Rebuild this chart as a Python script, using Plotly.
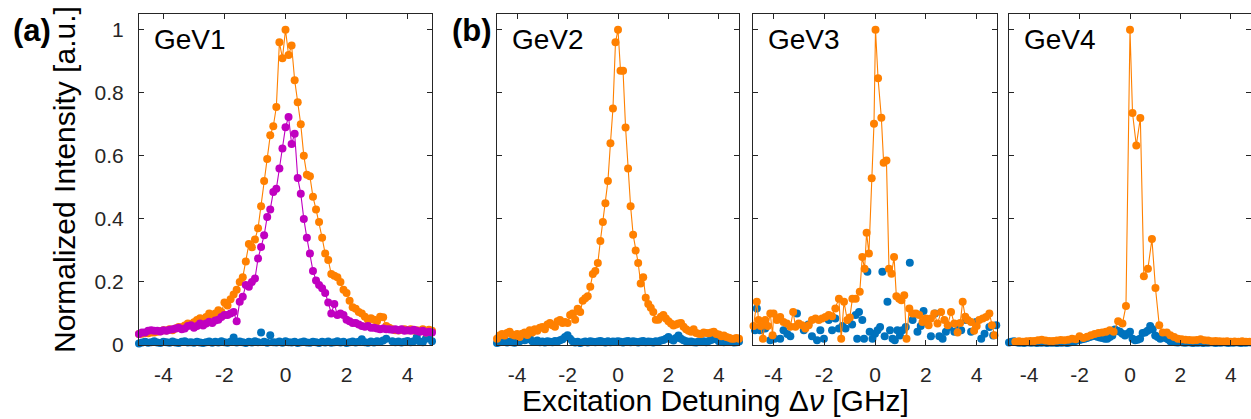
import plotly.graph_objects as go

# ---------------- data ----------------
x_grid = [-4.8, -4.7, -4.6, -4.5, -4.4, -4.3, -4.2, -4.1, -4.0,
          -3.9, -3.8, -3.7, -3.6, -3.5, -3.4, -3.3, -3.2, -3.1, -3.0,
          -2.9, -2.8, -2.7, -2.6, -2.5, -2.4, -2.3, -2.2, -2.1, -2.0,
          -1.9, -1.8, -1.7, -1.6, -1.5, -1.4, -1.3, -1.2, -1.1, -1.0,
          -0.9, -0.8, -0.7, -0.6, -0.5, -0.4, -0.3, -0.2, -0.1, 0.0,
          0.1, 0.2, 0.3, 0.4, 0.5, 0.6, 0.7, 0.8, 0.9, 1.0,
          1.1, 1.2, 1.3, 1.4, 1.5, 1.6, 1.7, 1.8, 1.9, 2.0,
          2.1, 2.2, 2.3, 2.4, 2.5, 2.6, 2.7, 2.8, 2.9, 3.0,
          3.1, 3.2, 3.3, 3.4, 3.5, 3.6, 3.7, 3.8, 3.9, 4.0,
          4.1, 4.2, 4.3, 4.4, 4.5, 4.6, 4.7, 4.8]

gev1_orange = [0.035, 0.036, 0.038, 0.037, 0.04, 0.04, 0.042, 0.044, 0.047,
               0.046, 0.05, 0.047, 0.052, 0.057, 0.056, 0.062, 0.068, 0.066, 0.072,
               0.079, 0.085, 0.082, 0.089, 0.1, 0.095, 0.1, 0.11, 0.105, 0.135,
               0.125, 0.145, 0.16, 0.175, 0.2, 0.215, 0.265, 0.32, 0.31, 0.335,
               0.37, 0.44, 0.52, 0.59, 0.665, 0.694, 0.755, 0.96, 0.91, 1.0,
               0.92, 0.95, 0.84, 0.77, 0.70, 0.6, 0.54, 0.535, 0.47, 0.43,
               0.39, 0.34, 0.29, 0.27, 0.225, 0.22, 0.215, 0.2, 0.175, 0.165,
               0.14, 0.12, 0.115, 0.105, 0.1, 0.09, 0.08, 0.085, 0.08, 0.075,
               0.09, 0.088, 0.06, 0.055, 0.05, 0.047, 0.046, 0.048, 0.05, 0.047,
               0.05, 0.046, 0.047, 0.045, 0.05, 0.04, 0.048, 0.045]

gev1_magenta = [0.035, 0.04, 0.04, 0.045, 0.047, 0.045, 0.045, 0.043, 0.047,
                0.045, 0.048, 0.05, 0.052, 0.055, 0.05, 0.052, 0.06, 0.063, 0.055,
                0.06, 0.068, 0.062, 0.068, 0.074, 0.07, 0.078, 0.08, 0.089, 0.095,
                0.095, 0.1, 0.105, 0.075, 0.137, 0.153, 0.19, 0.185, 0.2, 0.211,
                0.274, 0.311, 0.348, 0.406, 0.43, 0.485, 0.496, 0.56, 0.623, 0.691,
                0.723, 0.638, 0.67, 0.53, 0.48, 0.40, 0.34, 0.29, 0.235, 0.205,
                0.19, 0.18, 0.165, 0.135, 0.1, 0.13, 0.095, 0.1, 0.095, 0.08,
                0.075, 0.07, 0.07, 0.065, 0.06, 0.058, 0.06, 0.055, 0.055, 0.052,
                0.05, 0.052, 0.05, 0.05, 0.048, 0.05, 0.047, 0.05, 0.045, 0.047,
                0.045, 0.048, 0.045, 0.042, 0.045, 0.04, 0.042, 0.04]

gev1_blue = [0.005, 0.008, 0.01, 0.007, 0.009, 0.012, 0.008, 0.006, 0.01,
             0.009, 0.007, 0.011, 0.008, 0.006, 0.01, 0.012, 0.008, 0.009, 0.007,
             0.01, 0.008, 0.006, 0.009, 0.011, 0.007, 0.01, 0.008, 0.012, 0.009,
             0.007, 0.01, 0.024, 0.008, 0.011, 0.009, 0.006, 0.01, 0.008, 0.012,
             0.009, 0.04, 0.01, 0.007, 0.031, 0.009, 0.008, 0.011, 0.007, 0.012,
             0.009, 0.008, 0.01, 0.006, 0.009, 0.011, 0.008, 0.007, 0.01, 0.009,
             0.006, 0.01, 0.008, 0.011, 0.007, 0.009, 0.012, 0.008, 0.01, 0.006,
             0.009, 0.011, 0.008, 0.01, 0.018, 0.009, 0.007, 0.011, 0.008, 0.012,
             0.01, 0.014, 0.02, 0.05, 0.012, 0.009, 0.011, 0.008, 0.01, 0.013,
             0.009, 0.012, 0.025, 0.011, 0.009, 0.02, 0.03, 0.012]

gev2_orange = [0.02, 0.03, 0.035, 0.03, 0.038, 0.042, 0.033, 0.03, 0.035,
               0.025, 0.036, 0.04, 0.032, 0.047, 0.04, 0.05, 0.045, 0.055, 0.057,
               0.05, 0.065, 0.07, 0.063, 0.058, 0.075, 0.079, 0.07, 0.073, 0.07,
               0.095, 0.1, 0.08, 0.115, 0.105, 0.14, 0.148, 0.155, 0.185, 0.225,
               0.235, 0.26, 0.33, 0.39, 0.45, 0.52, 0.64, 0.75, 0.96, 1.0,
               0.87, 0.87, 0.69, 0.56, 0.44, 0.35, 0.3, 0.26, 0.195, 0.215,
               0.15, 0.13, 0.118, 0.105, 0.08, 0.08, 0.09, 0.095, 0.084, 0.075,
               0.068, 0.062, 0.065, 0.068, 0.07, 0.058, 0.05, 0.045, 0.042, 0.05,
               0.038, 0.036, 0.035, 0.04, 0.038, 0.037, 0.04, 0.042, 0.035, 0.033,
               0.028, 0.03, 0.025, 0.023, 0.02, 0.02, 0.022, 0.02]

gev2_blue = [0.006, 0.009, 0.012, 0.01, 0.008, 0.011, 0.009, 0.007, 0.01,
             0.012, 0.02, 0.015, 0.018, 0.022, 0.012, 0.01, 0.014, 0.009, 0.011,
             0.008, 0.012, 0.01, 0.009, 0.013, 0.011, 0.015, 0.018, 0.025, 0.031,
             0.02, 0.012, 0.008, 0.01, 0.006, 0.009, 0.011, 0.008, 0.012, 0.01,
             0.009, 0.011, 0.013, 0.01, 0.008, 0.012, 0.009, 0.011, 0.01, 0.012,
             0.01, 0.008, 0.011, 0.013, 0.009, 0.012, 0.01, 0.008, 0.011, 0.013,
             0.009, 0.011, 0.01, 0.008, 0.012, 0.01, 0.014, 0.016, 0.02, 0.025,
             0.018, 0.014, 0.022, 0.03, 0.02, 0.015, 0.012, 0.01, 0.011, 0.009,
             0.008, 0.011, 0.01, 0.012, 0.009, 0.013, 0.016, 0.02, 0.018, 0.012,
             0.01, 0.009, 0.011, 0.012, 0.01, 0.008, 0.009, 0.011]

gev3_orange_x = [-4.78, -4.65, -4.58, -4.5, -4.41, -4.32, -4.22, -4.12, -4.03, -3.99,
                 -3.86, -3.73, -3.6, -3.47, -3.33, -3.22, -3.13, -3.0, -2.87, -2.74,
                 -2.61, -2.48, -2.34, -2.21, -2.08, -1.95, -1.82, -1.69, -1.56, -1.42,
                 -1.33, -1.22, -1.09, -0.99, -0.89, -0.76, -0.6, -0.5, -0.41, -0.33,
                 -0.24, -0.13, -0.04, 0.02, 0.12, 0.25, 0.34, 0.45, 0.55, 0.65,
                 0.75, 0.84, 0.95, 1.04, 1.15, 1.24, 1.35, 1.48, 1.61, 1.74,
                 1.87, 2.0, 2.11, 2.2, 2.33, 2.46, 2.6, 2.73, 2.86, 2.99,
                 3.12, 3.25, 3.35, 3.45, 3.55, 3.65, 3.78, 3.9, 4.0, 4.1,
                 4.24, 4.37, 4.5, 4.6, 4.7]
gev3_orange = [0.06, 0.137, 0.079, 0.06, 0.02, 0.079, 0.06, 0.1, 0.031, 0.1,
               0.079, 0.089, 0.073, 0.068, 0.058, 0.105, 0.058, 0.068, 0.063, 0.052,
               0.063, 0.079, 0.084, 0.079, 0.084, 0.089, 0.095, 0.091, 0.116, 0.147,
               0.02, 0.137, 0.079, 0.087, 0.147, 0.147, 0.169, 0.279, 0.242, 0.356,
               0.29, 0.529, 0.702, 1.0, 0.846, 0.721, 0.578, 0.585, 0.242, 0.226,
               0.279, 0.155, 0.147, 0.142, 0.158, 0.02, 0.116, 0.1, 0.1, 0.095,
               0.073, 0.084, 0.063, 0.084, 0.1, 0.068, 0.105, 0.079, 0.063, 0.105,
               0.068, 0.04, 0.07, 0.137, 0.09, 0.079, 0.073, 0.045, 0.06, 0.079,
               0.084, 0.089, 0.1, 0.063, 0.031]

gev3_blue_x = [-4.72, -4.65, -4.52, -4.32, -4.12, -3.95, -3.73, -3.6, -3.45, -3.33,
               -3.07, -2.8, -2.62, -2.48, -2.28, -2.15, -2.01, -1.82, -1.69, -1.56,
               -1.42, -1.28, -1.16, -1.03, -0.9, -0.76, -0.7, -0.63, -0.5, -0.43,
               -0.3, -0.21, -0.1, 0.0, 0.1, 0.2, 0.29, 0.38, 0.49, 0.59,
               0.69, 0.78, 0.88, 0.98, 1.08, 1.21, 1.37, 1.48, 1.67, 1.8,
               1.91, 2.0, 2.2, 2.36, 2.53, 2.66, 2.79, 2.92, 3.12, 3.25,
               3.39, 3.58, 3.78, 3.98, 4.18, 4.31, 4.5, 4.65, 4.77]
gev3_blue = [0.047, 0.116, 0.047, 0.052, 0.015, 0.02, 0.02, 0.047, 0.035, 0.028,
             0.1, 0.047, 0.065, 0.028, 0.015, 0.047, 0.02, 0.079, 0.047, 0.084,
             0.052, 0.06, 0.052, 0.079, 0.065, 0.095, 0.02, 0.105, 0.079, 0.02,
             0.232, 0.042, 0.02, 0.036, 0.047, 0.057, 0.232, 0.028, 0.137, 0.047,
             0.02, 0.015, 0.047, 0.03, 0.047, 0.057, 0.261, 0.079, 0.042, 0.06,
             0.108, 0.073, 0.028, 0.1, 0.028, 0.02, 0.042, 0.057, 0.042, 0.065,
             0.047, 0.079, 0.042, 0.073, 0.02, 0.036, 0.057, 0.03, 0.063]

gev4_orange_x = [-4.55, -4.4, -4.25, -4.1, -3.95, -3.8, -3.65, -3.5, -3.35, -3.2,
                 -3.05, -2.9, -2.75, -2.6, -2.45, -2.3, -2.15, -2.0, -1.85, -1.7,
                 -1.55, -1.4, -1.25, -1.1, -0.95, -0.8, -0.65, -0.47, -0.3, -0.16,
                 0.0, 0.1, 0.25, 0.41, 0.55, 0.71, 0.87, 1.01, 1.16, 1.3,
                 1.46, 1.6, 1.75, 1.9, 2.05, 2.2, 2.35, 2.5, 2.65, 2.8,
                 2.95, 3.1, 3.25, 3.4, 3.55, 3.7, 3.85, 4.0, 4.15, 4.3,
                 4.45, 4.6, 4.75]
gev4_orange = [0.01, 0.012, 0.01, 0.012, 0.013, 0.013, 0.015, 0.017, 0.014, 0.013,
               0.013, 0.014, 0.016, 0.015, 0.017, 0.02, 0.018, 0.028, 0.022, 0.026,
               0.031, 0.035, 0.038, 0.04, 0.042, 0.047, 0.042, 0.075, 0.068, 0.124,
               1.0, 0.736, 0.633, 0.72, 0.218, 0.242, 0.336, 0.181, 0.063, 0.04,
               0.04, 0.031, 0.025, 0.02, 0.018, 0.017, 0.016, 0.015, 0.016, 0.018,
               0.015, 0.014, 0.012, 0.013, 0.012, 0.011, 0.012, 0.01, 0.011, 0.01,
               0.012, 0.01, 0.01]

gev4_blue = [0.008, 0.01, 0.012, 0.009, 0.007, 0.008, 0.006, 0.009, 0.008,
             0.007, 0.009, 0.006, 0.008, 0.007, 0.009, 0.006, 0.008, 0.007, 0.008,
             0.006, 0.008, 0.007, 0.009, 0.006, 0.008, 0.01, 0.012, 0.014, 0.016,
             0.018, 0.02, 0.022, 0.025, 0.028, 0.03, 0.026, 0.024, 0.022, 0.02,
             0.02, 0.025, 0.03, 0.049, 0.045, 0.042, 0.036, 0.03, 0.036, 0.042,
             0.02, 0.015, 0.017, 0.02, 0.038, 0.04, 0.045, 0.06, 0.05, 0.03,
             0.025, 0.02, 0.026, 0.022, 0.018, 0.012, 0.01, 0.009, 0.008, 0.01,
             0.008, 0.007, 0.009, 0.008, 0.006, 0.008, 0.007, 0.009, 0.006, 0.008,
             0.007, 0.009, 0.008, 0.006, 0.008, 0.007, 0.009, 0.008, 0.006, 0.008,
             0.007, 0.009, 0.008, 0.006, 0.008, 0.007, 0.009, 0.008]

panel_names = ["GeV1", "GeV2", "GeV3", "GeV4"]
x_tick_vals = [-4, -2, 0, 2, 4]
x_tick_labels = ["-4", "-2", "0", "2", "4"]
y_tick_vals = [0, 0.2, 0.4, 0.6, 0.8, 1]
y_tick_labels = ["0", "0.2", "0.4", "0.6", "0.8", "1"]

# ---------------- style ----------------
W, H = 1251, 419
ORANGE = "#FF8000"
BLUE = "#0072BD"
MAGENTA = "#C000C0"
AXC = "#262626"
FONT = "Liberation Sans, Arial, sans-serif"
MS = 8
LW = 1.1

def fx(p):
    return p / W

def fy(p):
    return 1 - p / H

# panel pixel extents (left, right), shared top/bottom
panels_px = [(139, 432), (497, 739), (753, 997), (1009, 1251)]
top_px, bot_px = 14, 345

fig = go.Figure()

def add(idx, x, y, color, mode):
    ax = "" if idx == 0 else str(idx + 1)
    fig.add_trace(go.Scatter(
        x=x, y=y, mode=mode, xaxis="x" + ax, yaxis="y" + ax,
        marker=dict(color=color, size=MS, line=dict(width=0)),
        line=dict(color=color, width=LW),
        cliponaxis=False, showlegend=False, hoverinfo="skip"))

# GeV1
add(0, x_grid, gev1_blue, BLUE, "markers")
add(0, x_grid, gev1_orange, ORANGE, "lines+markers")
add(0, x_grid, gev1_magenta, MAGENTA, "lines+markers")
# GeV2
add(1, x_grid, gev2_blue, BLUE, "markers")
add(1, x_grid, gev2_orange, ORANGE, "lines+markers")
# GeV3
add(2, gev3_blue_x, gev3_blue, BLUE, "markers")
add(2, gev3_orange_x, gev3_orange, ORANGE, "lines+markers")
# GeV4
add(3, x_grid, gev4_blue, BLUE, "markers")
add(3, gev4_orange_x, gev4_orange, ORANGE, "lines+markers")

layout = dict(
    width=W, height=H, autosize=False,
    margin=dict(l=0, r=0, t=0, b=0, pad=0, autoexpand=False),
    paper_bgcolor="white", plot_bgcolor="white",
    font=dict(family=FONT, color=AXC),
)

for i, (l, r) in enumerate(panels_px):
    ax = "" if i == 0 else str(i + 1)
    layout["xaxis" + ax] = dict(
        domain=[fx(l), min(1.0, fx(r))], range=[-4.8, 4.8],
        anchor="y" + ax, showgrid=False, zeroline=False, automargin=False,
        showline=True, linecolor=AXC, linewidth=1, mirror="ticks",
        ticks="inside", ticklen=5, tickcolor=AXC, tickwidth=1,
        tickmode="array", tickvals=x_tick_vals, ticktext=x_tick_labels,
        tickfont=dict(family=FONT, size=21, color=AXC),
        ticklabelstandoff=11,
    )
    layout["yaxis" + ax] = dict(
        domain=[fy(bot_px), fy(top_px)], range=[0, 1.05],
        anchor="x" + ax, showgrid=False, zeroline=False, automargin=False,
        showline=True, linecolor=AXC, linewidth=1, mirror="ticks",
        ticks="inside", ticklen=5, tickcolor=AXC, tickwidth=1,
        tickmode="array", tickvals=y_tick_vals, ticktext=y_tick_labels,
        showticklabels=(i == 0),
        tickfont=dict(family=FONT, size=21, color=AXC),
        ticklabelstandoff=10,
    )

annotations = []
label_left_px = [152, 510, 766, 1022]
for name, lx in zip(panel_names, label_left_px):
    annotations.append(dict(
        text=name, x=fx(lx), y=fy(39), xref="paper", yref="paper",
        xanchor="left", yanchor="middle", showarrow=False,
        font=dict(family=FONT, size=28, color="black")))

annotations.append(dict(text="<b>(a)</b>", x=fx(11), y=fy(31), xref="paper", yref="paper",
                        xanchor="left", yanchor="middle", showarrow=False,
                        font=dict(family=FONT, size=31, color="black")))
annotations.append(dict(text="<b>(b)</b>", x=fx(450), y=fy(31), xref="paper", yref="paper",
                        xanchor="left", yanchor="middle", showarrow=False,
                        font=dict(family=FONT, size=31, color="black")))
annotations.append(dict(text="Excitation Detuning Δ<i>ν</i> [GHz]", x=fx(715), y=fy(400),
                        xref="paper", yref="paper", xanchor="center", yanchor="middle",
                        showarrow=False, font=dict(family=FONT, size=30, color="black")))
annotations.append(dict(text="Normalized Intensity [a.u.]", x=fx(64), y=fy(180),
                        xref="paper", yref="paper", xanchor="center", yanchor="middle",
                        textangle=-90, showarrow=False,
                        font=dict(family=FONT, size=30, color="black")))
layout["annotations"] = annotations

fig.update_layout(**layout)
fig.write_html("out.html", config={"responsive": False})
